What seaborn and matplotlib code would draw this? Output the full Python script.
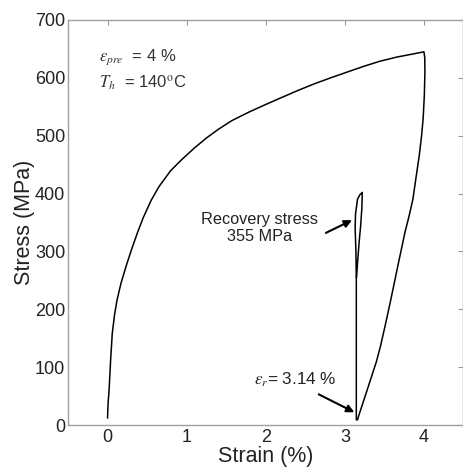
import numpy as np
import pandas as pd
import matplotlib
matplotlib.use("Agg")
import matplotlib.pyplot as plt
import seaborn as sns

# ---- data ----
loading_strain = [0.0, 0.003, 0.008, 0.017, 0.027, 0.04, 0.06, 0.09, 0.12, 0.17, 0.24,
                  0.31, 0.38, 0.45, 0.55, 0.65, 0.8, 0.94, 1.1, 1.25, 1.4, 1.57, 1.79,
                  2.0, 2.2, 2.42, 2.62, 2.82, 3.05, 3.24, 3.45, 3.66, 3.85, 4.0]
loading_stress = [12, 25, 40, 55, 80, 115, 159, 192, 216, 245, 277,
                  306, 333, 358, 388, 412, 440, 459, 479, 496, 511, 526, 541,
                  554, 566, 579, 590, 600, 611, 620, 629, 636, 641, 645]
unloading_strain = [4.0, 4.01, 4.012, 4.005, 3.99, 3.97, 3.94, 3.90, 3.86, 3.81, 3.76,
                    3.67, 3.58, 3.51, 3.45, 3.40, 3.30, 3.18, 3.16]
unloading_stress = [645, 635, 610, 570, 530, 500, 465, 428, 390, 360, 333,
                    275, 216, 172, 136, 110, 68, 18, 9]
recovery_strain = [3.145, 3.145, 3.14, 3.13, 3.135, 3.16, 3.19, 3.22, 3.215, 3.20, 3.18, 3.16, 3.148]
recovery_stress = [9, 250, 300, 340, 365, 390, 398, 402, 375, 345, 315, 280, 255]

x_ticks = [0, 1, 2, 3, 4]
y_ticks = [0, 100, 200, 300, 400, 500, 600, 700]

strain = loading_strain + unloading_strain + recovery_strain
stress = loading_stress + unloading_stress + recovery_stress
df = pd.DataFrame({"strain": strain, "stress": stress})

sns.set_style("white")
plt.rcParams["font.family"] = ["Liberation Sans", "DejaVu Sans"]
plt.rcParams["mathtext.fontset"] = "stix"

fig = plt.figure(figsize=(4.64, 4.68), dpi=100)
ax = fig.add_axes([68 / 464, 1 - 425 / 468, (463.5 - 68) / 464, (425 - 20) / 468])

sns.lineplot(data=df, x="strain", y="stress", sort=False, estimator=None,
             color="black", linewidth=1.1, ax=ax)
for ln in ax.lines:
    ln.set_solid_joinstyle("round")

ax.set_xlim(-0.5, 4.5)
ax.set_ylim(0, 700)
ax.set_xticks(x_ticks)
ax.set_yticks(y_ticks)
ax.tick_params(direction="in", length=3.5, width=0.8, color="#999999",
               top=True, right=True, labelsize=13, labelcolor="#222222")
ax.tick_params(axis="x", pad=3)
ax.tick_params(axis="y", pad=2)
for s in ax.spines.values():
    s.set_visible(True)
    s.set_color("#a0a0a0")
    s.set_linewidth(1.0)

ax.set_xlabel("Strain (%)", fontsize=15.5, color="#222222", labelpad=0)
ax.set_ylabel("Stress (MPa)", fontsize=15.5, color="#222222", labelpad=0)

# ---- annotations ----
ax.text(-0.11, 636, r"$\varepsilon_{pre}$  = 4 %", fontsize=12, color="#333333",
        ha="left", va="center")
ax.text(-0.11, 591, r"$T_h$  = 140$^{\mathrm{o}}$C", fontsize=12, color="#333333",
        ha="left", va="center")

ax.text(1.92, 341, "Recovery stress\n355 MPa", fontsize=11.7, color="#222222",
        ha="center", va="center", linespacing=1.15)
ax.annotate("", xy=(3.09, 354), xytext=(2.76, 332),
            arrowprops=dict(arrowstyle="-|>", color="black", lw=1.5,
                            mutation_scale=11, shrinkA=0, shrinkB=0))
ax.text(2.37, 78, r"$\varepsilon_r$= 3.14 %", fontsize=12.3, color="#222222",
        ha="center", va="center")
ax.annotate("", xy=(3.12, 22), xytext=(2.67, 53),
            arrowprops=dict(arrowstyle="-|>", color="black", lw=1.5,
                            mutation_scale=11, shrinkA=0, shrinkB=0))

fig.savefig("out.png", dpi=100)
